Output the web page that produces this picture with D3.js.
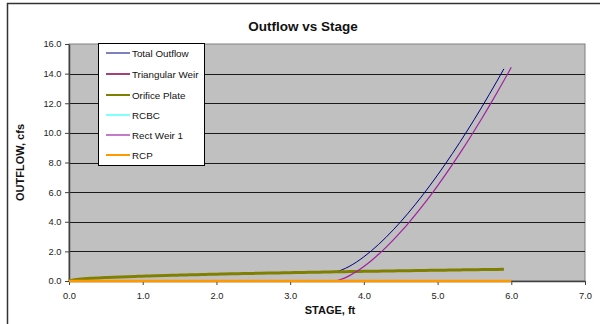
<!DOCTYPE html>
<html>
<head>
<meta charset="utf-8">
<script src="https://cdn.jsdelivr.net/npm/d3@7"></script>
<style>
  html, body { margin: 0; padding: 0; background: #fff; }
  svg { display: block; font-family: Arial, "Liberation Sans", sans-serif; }
</style>
</head>
<body>
<svg id="chart" width="600" height="324"></svg>
<script>
// Stage (ft) at 0.1 ft increments
const stage = [
  0.0,0.1,0.2,0.3,0.4,0.5,0.6,0.7,0.8,0.9,
  1.0,1.1,1.2,1.3,1.4,1.5,1.6,1.7,1.8,1.9,
  2.0,2.1,2.2,2.3,2.4,2.5,2.6,2.7,2.8,2.9,
  3.0,3.1,3.2,3.3,3.4,3.5,3.6,3.7,3.8,3.9,
  4.0,4.1,4.2,4.3,4.4,4.5,4.6,4.7,4.8,4.9,
  5.0,5.1,5.2,5.3,5.4,5.5,5.6,5.7,5.8,5.9,
  6.0
];

// Outflow (cfs) per structure; rating runs to 5.9 ft for the first set
const totalOutflow = [
  0.000,0.103,0.145,0.178,0.206,0.230,0.252,0.272,0.291,0.308,
  0.325,0.341,0.356,0.371,0.385,0.398,0.411,0.424,0.436,0.448,
  0.460,0.471,0.482,0.493,0.503,0.514,0.524,0.534,0.544,0.553,
  0.563,0.572,0.581,0.590,0.599,0.608,0.617,0.748,0.981,1.279,
  1.632,2.030,2.469,2.946,3.458,4.002,4.577,5.181,5.812,6.470,
  7.154,7.862,8.594,9.348,10.125,10.924,11.743,12.584,13.444,14.323
];
const triangularWeir = [
  0,0,0,0,0,0,0,0,0,0, 0,0,0,0,0,0,0,0,0,0,
  0,0,0,0,0,0,0,0,0,0, 0,0,0,0,0,0,0,0,0,0,
  0,0,0,0,0,0,0,0,0,0, 0,0,0,0,0,0,0,0,0,0
];
const orificePlate = [
  0.000,0.103,0.145,0.178,0.206,0.230,0.252,0.272,0.291,0.308,
  0.325,0.341,0.356,0.371,0.385,0.398,0.411,0.424,0.436,0.448,
  0.460,0.471,0.482,0.493,0.503,0.514,0.524,0.534,0.544,0.553,
  0.563,0.572,0.581,0.590,0.599,0.608,0.617,0.625,0.634,0.642,
  0.650,0.658,0.666,0.674,0.682,0.689,0.697,0.705,0.712,0.719,
  0.727,0.734,0.741,0.748,0.755,0.762,0.769,0.776,0.783,0.789
];
const rcbc = [
  0,0,0,0,0,0,0,0,0,0, 0,0,0,0,0,0,0,0,0,0,
  0,0,0,0,0,0,0,0,0,0, 0,0,0,0,0,0,0,0,0,0,
  0,0,0,0,0,0,0,0,0,0, 0,0,0,0,0,0,0,0,0,0
];
const rectWeir1 = [
  0,0,0,0,0,0,0,0,0,0, 0,0,0,0,0,0,0,0,0,0,
  0,0,0,0,0,0,0,0,0,0, 0,0,0,0,0,0,
  0.000,0.123,0.347,0.637,
  0.982,1.372,1.803,2.272,2.776,3.313,3.880,4.476,5.100,5.751,
  6.427,7.128,7.853,8.600,9.370,10.162,10.974,11.808,12.661,13.534,
  14.426
];
const rcp = [
  0,0,0,0,0,0,0,0,0,0, 0,0,0,0,0,0,0,0,0,0,
  0,0,0,0,0,0,0,0,0,0, 0,0,0,0,0,0,0,0,0,0,
  0,0,0,0,0,0,0,0,0,0, 0,0,0,0,0,0,0,0,0,0,
  0
];

const seriesNames = ["Total Outflow", "Triangular Weir", "Orifice Plate", "RCBC", "Rect Weir 1", "RCP"];
const seriesValues = [totalOutflow, triangularWeir, orificePlate, rcbc, rectWeir1, rcp];
const seriesColors = ["#000080", "#A6407A", "#808000", "#00FFFF", "#A020A0", "#FF9900"];
const seriesWidths = [1, 2, 3, 1, 1.2, 2.5];

const xTicks = [0, 1, 2, 3, 4, 5, 6, 7];
const yTicks = [0, 2, 4, 6, 8, 10, 12, 14, 16];

const svg = d3.select("#chart");

// outer chart frame
svg.append("rect")
  .attr("x", 7.5).attr("y", 3.5)
  .attr("width", 600).attr("height", 330)
  .attr("fill", "#fff").attr("stroke", "#333").attr("stroke-width", 1.5);

const plot = { left: 69, right: 585, top: 44, bottom: 281 };
const x = d3.scaleLinear().domain([0, 7]).range([plot.left, plot.right]);
const y = d3.scaleLinear().domain([0, 16]).range([plot.bottom, plot.top]);

// plot area
svg.append("rect")
  .attr("x", plot.left).attr("y", plot.top)
  .attr("width", plot.right - plot.left).attr("height", plot.bottom - plot.top)
  .attr("fill", "#C0C0C0").attr("stroke", "#808080").attr("stroke-width", 1);

// horizontal gridlines
svg.append("g")
  .selectAll("line")
  .data(yTicks.filter(d => d > 0 && d < 16))
  .join("line")
  .attr("x1", plot.left).attr("x2", plot.right)
  .attr("y1", d => Math.round(y(d)) + 0.5).attr("y2", d => Math.round(y(d)) + 0.5)
  .attr("stroke", "#1a1a1a").attr("stroke-width", 1);

// axes
const xAxis = svg.append("g")
  .attr("transform", `translate(0,${plot.bottom})`)
  .call(d3.axisBottom(x).tickValues(xTicks).tickFormat(d3.format(".1f")).tickSizeInner(4).tickSizeOuter(0));
const yAxis = svg.append("g")
  .attr("transform", `translate(${plot.left},0)`)
  .call(d3.axisLeft(y).tickValues(yTicks).tickFormat(d3.format(".1f")).tickSizeInner(4).tickSizeOuter(0));

[xAxis, yAxis].forEach(g => {
  g.select(".domain").attr("stroke", "#404040").attr("stroke-width", 1.5);
  g.selectAll(".tick line").attr("stroke", "#404040");
  g.selectAll(".tick text")
    .attr("fill", "#222").attr("font-size", "9.3px")
    .attr("font-family", "Arial, 'Liberation Sans', sans-serif");
});
xAxis.selectAll(".tick text").attr("dy", "1.15em");
yAxis.selectAll(".tick text").attr("dx", "-0.05em");

// series lines
const lineGen = d3.line()
  .x((d, i) => x(stage[i]))
  .y(d => y(d))
  .curve(d3.curveMonotoneX);

const lines = svg.append("g");
seriesValues.forEach((vals, k) => {
  lines.append("path")
    .datum(vals)
    .attr("d", lineGen)
    .attr("fill", "none")
    .attr("stroke", seriesColors[k])
    .attr("stroke-width", seriesWidths[k])
    .attr("stroke-linejoin", "round");
});

// titles
svg.append("text")
  .attr("x", 303).attr("y", 31)
  .attr("text-anchor", "middle")
  .attr("font-size", "13.5px").attr("font-weight", "bold").attr("fill", "#111")
  .text("Outflow vs Stage");

svg.append("text")
  .attr("x", 330).attr("y", 314)
  .attr("text-anchor", "middle")
  .attr("font-size", "11px").attr("font-weight", "bold").attr("fill", "#111")
  .text("STAGE, ft");

svg.append("text")
  .attr("transform", `translate(24,${(plot.top + plot.bottom) / 2}) rotate(-90)`)
  .attr("text-anchor", "middle")
  .attr("font-size", "11px").attr("font-weight", "bold").attr("fill", "#111")
  .text("OUTFLOW, cfs");

// legend
const legend = svg.append("g");
legend.append("rect")
  .attr("x", 98.5).attr("y", 43.5).attr("width", 106).attr("height", 122)
  .attr("fill", "#fff").attr("stroke", "#000").attr("stroke-width", 1);

const legendY = [53, 74, 95, 115, 135, 155];
seriesNames.forEach((name, k) => {
  legend.append("line")
    .attr("x1", 106).attr("x2", 130)
    .attr("y1", legendY[k]).attr("y2", legendY[k])
    .attr("stroke", seriesColors[k])
    .attr("stroke-width", Math.min(seriesWidths[k], 2));
  legend.append("text")
    .attr("x", 132).attr("y", legendY[k] + 3.5)
    .attr("font-size", "9.8px").attr("fill", "#111")
    .text(name);
});
</script>
</body>
</html>
